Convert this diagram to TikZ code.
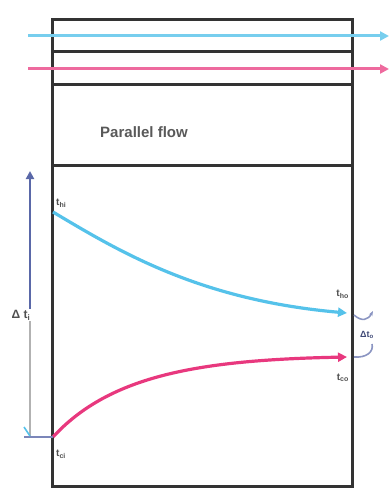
\documentclass[tikz,border=0pt]{standalone}
\usepackage{fontspec}
\setmainfont{Liberation Sans}
\usetikzlibrary{arrows.meta}
\definecolor{hotc}{HTML}{55C2EA}
\definecolor{coldc}{HTML}{E8387E}
\definecolor{darr}{HTML}{5A68A8}
\definecolor{lbl}{HTML}{505050}
\tikzset{
  frame/.style={line width=3pt, draw=black!80},
  hotline/.style={line width=3.2pt, draw=hotc, -{Triangle[length=9pt,width=9pt]}},
  coldline/.style={line width=3.2pt, draw=coldc, -{Triangle[length=9pt,width=9pt]}},
  small/.style={font=\fontsize{10}{11}\selectfont\bfseries, text=lbl, inner sep=1pt},
}
\begin{document}
\begin{tikzpicture}[x=1pt,y=-1pt]
\useasboundingbox (0,0) rectangle (390,489);
% frame
\coordinate (tl) at (52,20);
\coordinate (tr) at (352,20);
\coordinate (bl) at (52,486);
\coordinate (br) at (352,486);
\draw[frame] (tl) rectangle (br);
\coordinate (l1) at (52,52);  \coordinate (r1) at (352,52);
\coordinate (l2) at (52,85);  \coordinate (r2) at (352,85);
\coordinate (l3) at (52,165); \coordinate (r3) at (352,165);
\draw[frame] (l1) -- (r1);
\draw[frame] (l2) -- (r2);
\draw[frame] (l3) -- (r3);
% flow arrows
\coordinate (hin) at (28,36);  \coordinate (hout) at (389,36);
\coordinate (cin) at (28,69);  \coordinate (cout) at (389,69);
\draw[line width=3pt, draw=hotc!80, -{Triangle[length=9pt,width=9pt]}] (hin) -- (hout);
\draw[line width=3pt, draw=coldc!75, -{Triangle[length=9pt,width=9pt]}] (cin) -- (cout);
\node[font=\fontsize{15}{17}\selectfont\bfseries, text=black!65] (title) at (144,132) {Parallel flow};
% temperature curves
\coordinate (thi) at (53,212);
\coordinate (tho) at (347,313);
\coordinate (tci) at (53,437);
\coordinate (tco) at (347,357);
\draw[hotline] (thi) .. controls (120,252) and (200,300) .. (tho);
\draw[coldline] (tci) .. controls (110,375) and (200,360) .. (tco);
% labels
\node[small, anchor=west] (lhi) at (55,203) {t\textsubscript{hi}};
\node[small, anchor=west] (lci) at (55,454) {t\textsubscript{ci}};
\node[small, anchor=east] (lho) at (350,294) {t\textsubscript{ho}};
\node[small, anchor=east] (lco) at (350,378) {t\textsubscript{co}};
% Delta t_i arrow
\node[small, font=\fontsize{12}{13}\selectfont\bfseries] (dti) at (21,315) {Δ t\textsubscript{i}};
\coordinate (dtop) at (30,171);
\coordinate (dbot) at (30,437);
\draw[line width=2.6pt, draw=darr, -{Triangle[length=8pt,width=8pt]}] (dti.north -| dtop) -- (dtop);
\draw[line width=2.6pt, draw=gray!60] (dti.south -| dbot) -- (dbot);
\draw[line width=2.6pt, draw=darr!80] (24,437) -- (tci);
\draw[line width=1.6pt, draw=hotc] (24,427) -- (30,436);
% Delta t_o bracket
\coordinate (ob1) at (354,315);
\coordinate (ob2) at (354,357);
\draw[line width=1.6pt, draw=darr!70, -{Stealth[length=5pt]}] (ob1) .. controls (362,322) and (368,320) .. (373,311);
\draw[line width=1.6pt, draw=darr!70] (ob2) .. controls (366,358) and (374,352) .. (372,344);
\node[small, font=\fontsize{9}{10}\selectfont\bfseries, text=darr!70!black] (dto) at (367,335) {Δt\textsubscript{o}};
\end{tikzpicture}
\end{document}
